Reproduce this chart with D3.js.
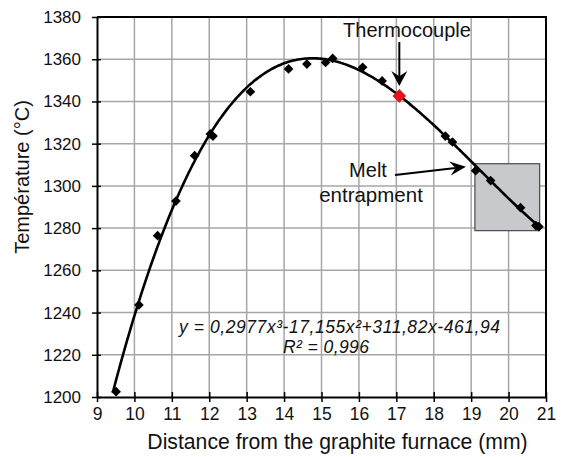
<!DOCTYPE html>
<html>
<head>
<meta charset="utf-8">
<script src="https://cdn.jsdelivr.net/npm/d3@7"></script>
<style>
  html, body { margin: 0; padding: 0; background: #fff; }
  svg { display: block; font-family: "Liberation Sans", Arial, sans-serif; }
</style>
</head>
<body>
<svg id="chart" width="562" height="457"></svg>
<script>
// Measured temperatures along the sample (distance in mm, temperature in °C)
const distance = [9.51, 10.12, 10.62, 11.11, 11.61, 12.03, 12.1, 13.1, 14.12, 14.61, 15.11,
                  15.3, 16.1, 16.62, 18.31, 18.5, 19.12, 19.52, 20.32, 20.73, 20.81];
const temperature = [1202.5, 1243.6, 1276.4, 1292.8, 1314.3, 1324.6, 1323.6, 1344.6, 1355.4,
                     1357.7, 1358.5, 1360.4, 1356.2, 1349.7, 1323.6, 1320.8, 1307.2, 1302.5,
                     1289.7, 1281.2, 1280.7];

// Thermocouple reading
const thermoDistance = [17.08];
const thermoTemperature = [1342.6];

// Cubic fit: y = a x^3 + b x^2 + c x + d
const fitCoefficients = [0.2977, -17.155, 311.82, -461.94];
const fitRange = [9.42, 20.85];
const fitLabel = "y = 0,2977x³-17,155x²+311,82x-461,94";
const r2Label = "R² = 0,996";

// Melt entrapment zone (distance span, temperature span)
const entrapDistance = [19.1, 20.83];
const entrapTemperature = [1278.8, 1310.5];

// Axis ticks
const xTickValues = [9, 10, 11, 12, 13, 14, 15, 16, 17, 18, 19, 20, 21];
const yTickValues = [1200, 1220, 1240, 1260, 1280, 1300, 1320, 1340, 1360, 1380];

const svg = d3.select("#chart");
const plotL = 97, plotR = 546, plotT = 17, plotB = 397;

const x = d3.scaleLinear().domain([9, 21]).range([plotL, plotR]);
const y = d3.scaleLinear().domain([1200, 1380]).range([plotB, plotT]);

// Grid
const grid = svg.append("g").attr("stroke", "#a6a6a6").attr("stroke-width", 1.5);
grid.selectAll("line.v").data(xTickValues.slice(1, -1)).join("line")
  .attr("class", "v")
  .attr("x1", d => x(d)).attr("x2", d => x(d))
  .attr("y1", plotT).attr("y2", plotB);
grid.selectAll("line.h").data(yTickValues.slice(1, -1)).join("line")
  .attr("class", "h")
  .attr("x1", plotL).attr("x2", plotR)
  .attr("y1", d => y(d)).attr("y2", d => y(d));

// Entrapment box
svg.append("rect")
  .attr("x", x(entrapDistance[0]))
  .attr("y", y(entrapTemperature[1]))
  .attr("width", x(entrapDistance[1]) - x(entrapDistance[0]))
  .attr("height", y(entrapTemperature[0]) - y(entrapTemperature[1]))
  .attr("fill", "#c8c9cc")
  .attr("stroke", "#4a4a4a")
  .attr("stroke-width", 1.2);

// Frame (top and right)
svg.append("path")
  .attr("d", `M${plotL},${plotT}H${plotR}V${plotB}`)
  .attr("fill", "none").attr("stroke", "#000").attr("stroke-width", 2);

// Axes
const yAxis = svg.append("g")
  .attr("transform", `translate(${plotL},0)`)
  .call(d3.axisLeft(y).tickValues(yTickValues).tickFormat(d3.format("d"))
    .tickSizeInner(5).tickSizeOuter(0).tickPadding(11));
yAxis.selectAll(".tick line").attr("x1", 4).attr("x2", -5).attr("stroke-width", 1.5);
yAxis.select(".domain").attr("stroke-width", 2);
yAxis.selectAll("text").attr("font-size", 17).attr("fill", "#111")
  .style("font-family", "'Liberation Sans', Arial, sans-serif");

const xAxis = svg.append("g")
  .attr("transform", `translate(0,${plotB})`)
  .call(d3.axisBottom(x).tickValues(xTickValues).tickFormat(d3.format("d"))
    .tickSizeInner(5).tickSizeOuter(0).tickPadding(6));
xAxis.selectAll(".tick line").attr("y1", -5).attr("y2", 5).attr("stroke-width", 1.5);
xAxis.select(".domain").attr("stroke-width", 2);
xAxis.selectAll("text").attr("font-size", 17.5).attr("fill", "#111")
  .style("font-family", "'Liberation Sans', Arial, sans-serif");

// Axis titles
svg.append("text")
  .attr("x", 337.5).attr("y", 449)
  .attr("text-anchor", "middle").attr("font-size", 21.2).attr("fill", "#111")
  .text("Distance from the graphite furnace (mm)");
svg.append("text")
  .attr("transform", "translate(29,177) rotate(-90)")
  .attr("text-anchor", "middle").attr("font-size", 20).attr("fill", "#111")
  .text("Température (°C)");

// Fitted curve
const poly = t => fitCoefficients[0] * t * t * t + fitCoefficients[1] * t * t + fitCoefficients[2] * t + fitCoefficients[3];
const curveX = d3.range(fitRange[0], fitRange[1] + 1e-9, 0.05);
svg.append("path")
  .datum(curveX)
  .attr("d", d3.line().x(d => x(d)).y(d => y(poly(d))).curve(d3.curveMonotoneX))
  .attr("fill", "none").attr("stroke", "#000").attr("stroke-width", 2.6);

// Measurement markers
svg.append("g").selectAll("path")
  .data(distance.map((d, i) => [d, temperature[i]]))
  .join("path")
  .attr("transform", d => `translate(${x(d[0])},${y(d[1])})`)
  .attr("d", d3.symbol().type(d3.symbolDiamond2).size(60))
  .attr("fill", "#000");

svg.append("g").selectAll("path")
  .data(thermoDistance.map((d, i) => [d, thermoTemperature[i]]))
  .join("path")
  .attr("transform", d => `translate(${x(d[0])},${y(d[1])})`)
  .attr("d", d3.symbol().type(d3.symbolDiamond2).size(120))
  .attr("fill", "#e3141d");

// Annotation arrows with a notched, filled head
function arrow(x1, y1, x2, y2, headLen, headHalf) {
  const a = Math.atan2(y2 - y1, x2 - x1);
  const bx = x2 - headLen * Math.cos(a), by = y2 - headLen * Math.sin(a);
  const nx = -Math.sin(a), ny = Math.cos(a);
  const notch = headLen * 0.35;
  const cx = x2 - (headLen - notch) * Math.cos(a), cy = y2 - (headLen - notch) * Math.sin(a);
  svg.append("line").attr("x1", x1).attr("y1", y1).attr("x2", cx).attr("y2", cy)
    .attr("stroke", "#000").attr("stroke-width", 2);
  svg.append("path")
    .attr("d", `M${x2},${y2}L${bx + nx * headHalf},${by + ny * headHalf}L${cx},${cy}L${bx - nx * headHalf},${by - ny * headHalf}Z`)
    .attr("fill", "#000");
}

const tx = x(thermoDistance[0]), ty = y(thermoTemperature[0]);
svg.append("text").attr("x", 407).attr("y", 37).attr("text-anchor", "middle")
  .attr("font-size", 20).attr("fill", "#111").text("Thermocouple");
arrow(tx, 42, tx, ty - 10, 15, 8);

svg.append("text").attr("x", 368).attr("y", 177).attr("text-anchor", "middle")
  .attr("font-size", 20).attr("fill", "#111").text("Melt");
svg.append("text").attr("x", 371).attr("y", 202).attr("text-anchor", "middle")
  .attr("font-size", 20.5).attr("fill", "#111").text("entrapment");
arrow(395, 175, x(entrapDistance[0]) - 9, y(entrapTemperature[1]) + 3, 16, 7);

// Fit equation
svg.append("text").attr("x", 179).attr("y", 333)
  .attr("font-size", 17.5).attr("font-style", "italic").attr("fill", "#111")
  .attr("textLength", 321).attr("lengthAdjust", "spacing").text(fitLabel);
svg.append("text").attr("x", 283).attr("y", 353)
  .attr("font-size", 17.5).attr("font-style", "italic").attr("fill", "#111")
  .attr("textLength", 86).attr("lengthAdjust", "spacing").text(r2Label);
</script>
</body>
</html>
